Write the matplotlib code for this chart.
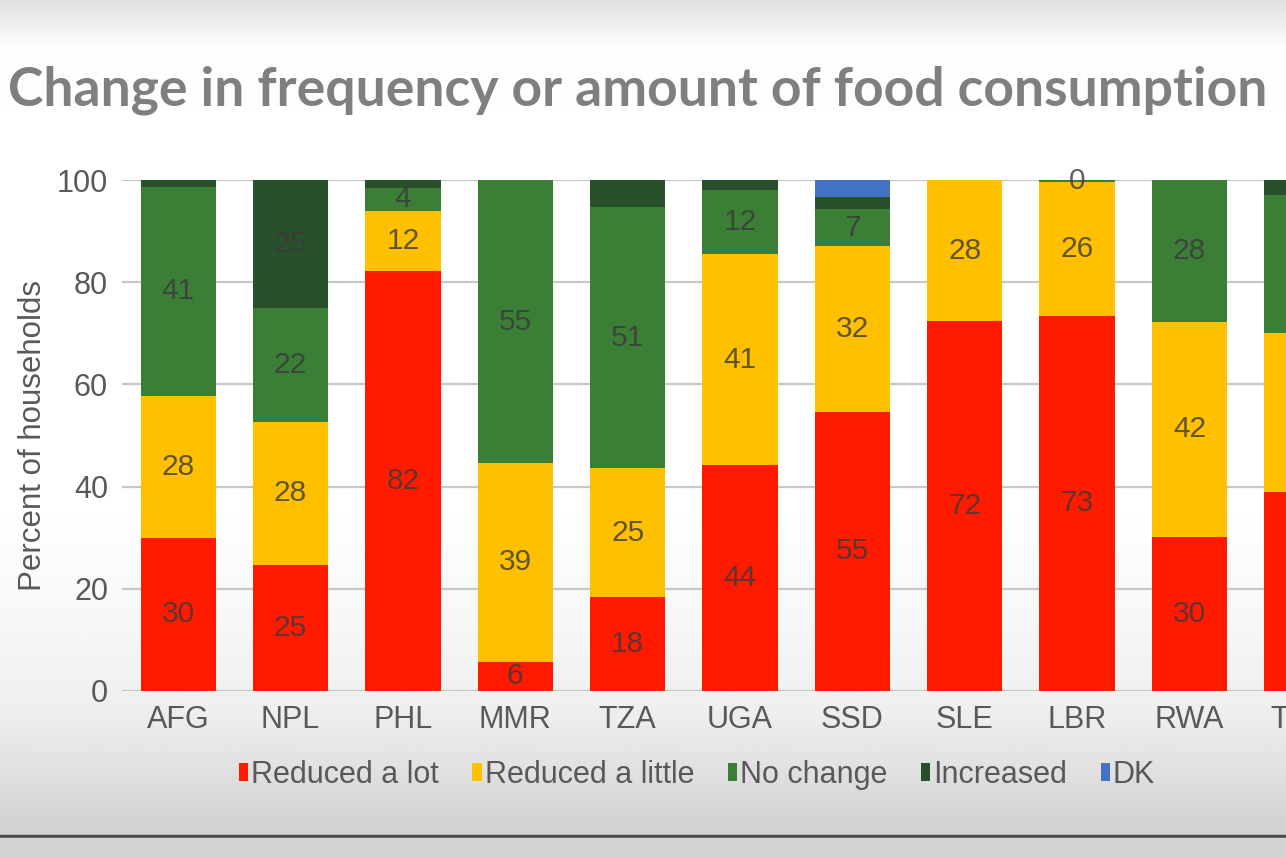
import matplotlib
matplotlib.use('Agg')
import matplotlib.pyplot as plt
import numpy as np

plt.rcParams['font.family'] = ['Liberation Sans', 'DejaVu Sans']

# 数据
countries = ['AFG', 'NPL', 'PHL', 'MMR', 'TZA', 'UGA', 'SSD', 'SLE', 'LBR', 'RWA', 'TCD']
reduced_lot = [30, 24.6, 82.2, 5.7, 18.4, 44.2, 54.6, 72.4, 73.4, 30.2, 39]
reduced_little = [27.7, 28.1, 11.8, 38.9, 25.2, 41.3, 32.5, 27.6, 26.2, 42, 31]
no_change = [41, 22.3, 4.4, 55.4, 51.1, 12.5, 7.2, 0, 0.4, 27.8, 27]
increased = [1.3, 25, 1.6, 0, 5.3, 2, 2.4, 0, 0, 0, 3]
dk = [0, 0, 0, 0, 0, 0, 3.3, 0, 0, 0, 0]

series = ['Reduced a lot', 'Reduced a little', 'No change', 'Increased', 'DK']
colors = ['#ff1a00', '#ffc000', '#3a7f35', '#28502a', '#4472c4']
yticks = [0, 20, 40, 60, 80, 100]

fig = plt.figure(figsize=(12.86, 8.58), dpi=100)

# 背景渐变
bg = fig.add_axes([0, 0, 1, 1], zorder=-10)
ys = np.array([0, 45, 150, 500, 620, 720, 833]) / 858
vs = np.array([0.88, 0.99, 1.0, 1.0, 0.97, 0.93, 0.82])
yy = np.linspace(0, 1, 400)
grad = np.interp(yy, ys, vs)
bg.imshow(np.tile(grad[:, None], (1, 10)), cmap='gray', vmin=0, vmax=1,
          aspect='auto', extent=[0, 1, 1, 0])
bg.axhspan(835 / 858, 838 / 858, color='#4a4a4a')
bg.axhspan(838 / 858, 1, color='#d3d3d3')
bg.set_xlim(0, 1)
bg.set_ylim(1, 0)
bg.axis('off')

ax = fig.add_axes([122 / 1286, 167 / 858, 1236 / 1286, 511 / 858])
ax.set_facecolor('none')

x = np.arange(len(countries))
bottom = np.zeros(len(countries))
data = [reduced_lot, reduced_little, no_change, increased, dk]
for i, (vals, name, c) in enumerate(zip(data, series, colors)):
    vals = np.array(vals, dtype=float)
    ax.bar(x, vals, 0.67, bottom=bottom, color=c, label=name, zorder=3)
    # 数据标签
    if i < 3:
        labs = [f'{v:.0f}' if v > 0 else '' for v in vals]
    elif i == 3:
        labs = [f'{v:.0f}' if v >= 10 else '' for v in vals]
    else:
        labs = ['' for v in vals]
    for xi, b0, v, lab in zip(x, bottom, vals, labs):
        if lab and xi < 10:
            ax.text(xi, b0 + v / 2, lab, ha='center', va='center',
                    fontsize=21.5, color='#3a3a3a', alpha=0.8, zorder=4)
    bottom += vals

ax.set_xlim(-0.5, 10.5)
ax.set_ylim(0, 100)
ax.set_yticks(yticks)
ax.set_xticks(x)
ax.set_xticklabels(countries)
ax.tick_params(axis='both', length=0, labelsize=22, colors='#595959')
ax.tick_params(axis='x', pad=10)
ax.tick_params(axis='y', pad=10)
ax.grid(axis='y', color='#c8c8c8', linewidth=1.6, zorder=0)
for s in ax.spines.values():
    s.set_visible(False)
ax.set_ylabel('Percent of households', fontsize=22.5, color='#595959')
ax.yaxis.set_label_coords(-74 / 1236, 0.5)

fig.text(8 / 1286, 1 - 90 / 858, 'Change in frequency or amount of food consumption',
         fontsize=38.5, fontweight='bold', color='#7f7f7f', va='center',
         family=['Lato', 'DejaVu Sans'])

fig.legend(loc='center', bbox_to_anchor=(697 / 1286, 1 - 775 / 858), ncol=5,
           frameon=False, fontsize=22, handlelength=0.3, handleheight=0.5,
           handletextpad=0.1, columnspacing=1.1, labelcolor='#595959')

plt.savefig('out.png', dpi=100)
